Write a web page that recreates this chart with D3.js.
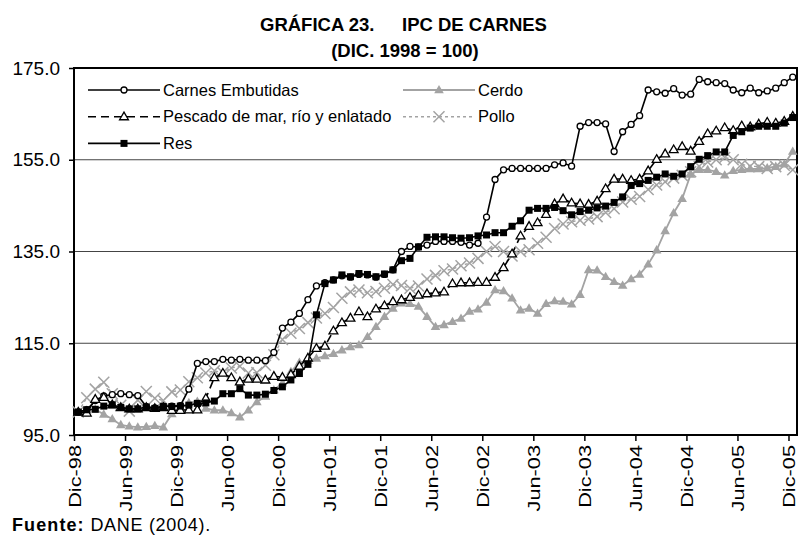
<!DOCTYPE html>
<html>
<head>
<meta charset="utf-8">
<script src="https://cdn.jsdelivr.net/npm/d3@7"></script>
<style>
  body { margin: 0; background: #fff; }
  text { font-family: Arial, "Liberation Sans", sans-serif; }
</style>
</head>
<body>
<script>
//data: monthly index, Dic-98 .. Dic-05 (85 months)
const tickLabels = ["Dic-98","Jun-99","Dic-99","Jun-00","Dic-00","Jun-01","Dic-01","Jun-02",
  "Dic-02","Jun-03","Dic-03","Jun-04","Dic-04","Jun-05","Dic-05"];
const yTicks = [95, 115, 135, 155, 175];

const carnesEmbutidas = [100.0,100.5,102.5,103.5,103.8,104.0,103.8,103.6,101.2,100.9,101.3,101.3,101.4,105.0,
  110.6,111.0,111.0,111.5,111.3,111.5,111.3,111.3,111.2,113.0,118.3,119.6,121.5,124.5,127.5,128.2,
  128.8,129.7,129.4,130.0,129.9,129.4,130.0,131.0,135.0,136.1,136.0,136.4,137.2,137.2,137.2,137.0,
  136.4,136.8,142.5,150.7,152.8,153.1,153.1,153.1,153.1,153.1,153.9,154.3,153.6,162.3,163.1,163.1,
  162.8,156.8,161.1,162.7,164.6,170.2,169.8,169.5,170.5,169.1,169.3,172.5,172.0,171.8,171.6,170.2,
  169.6,170.6,169.6,170.0,170.6,171.8,173.0];
const pescado = [100.0,99.8,102.8,103.2,101.6,101.0,100.7,100.7,101.0,100.8,101.0,100.4,100.4,100.5,
  100.5,103.0,107.5,108.5,107.5,106.6,107.2,107.2,107.0,107.8,107.6,108.2,110.0,111.8,113.9,114.4,
  117.7,119.5,120.5,121.9,120.8,122.5,123.2,124.1,124.5,125.0,125.5,125.8,126.0,126.2,128.0,128.2,
  128.2,128.3,128.3,129.4,131.5,134.5,138.4,140.5,141.3,143.1,145.4,146.5,145.6,145.4,145.3,146.0,
  148.7,150.8,150.8,150.5,150.8,152.6,155.1,156.3,157.2,157.9,156.9,159.0,160.7,161.3,162.0,161.4,
  162.4,162.2,162.8,163.2,163.0,163.4,164.5];
const res = [100.0,100.5,100.6,101.3,101.6,101.0,100.7,100.7,101.1,100.8,101.2,101.2,101.3,101.5,
  101.9,102.0,102.4,104.0,104.0,105.1,103.7,103.7,103.9,104.7,105.5,107.0,108.4,110.4,121.2,128.0,
  128.8,129.9,129.5,130.2,130.0,129.5,130.1,131.0,133.0,133.5,136.0,138.1,138.2,138.2,138.0,137.9,
  138.0,138.4,138.6,139.1,139.1,140.5,141.7,144.0,144.4,144.4,144.6,143.9,143.0,143.7,144.0,144.5,
  144.9,145.7,146.9,149.4,149.8,150.5,151.2,151.9,151.4,151.9,153.5,155.1,155.9,156.7,156.7,160.3,
  161.1,161.9,162.3,162.3,162.3,163.0,164.2];
const cerdo = [100.0,100.4,100.6,99.5,98.5,97.2,96.9,96.7,96.8,97.0,96.7,99.6,101.0,102.0,
  102.3,100.8,100.4,100.4,99.8,98.9,100.4,102.2,103.4,104.8,106.3,108.8,110.8,111.2,111.7,112.2,
  112.7,113.5,114.2,114.6,116.4,118.6,120.8,122.6,123.7,123.6,123.0,120.8,118.6,119.0,119.7,120.4,
  121.9,122.4,123.9,126.6,126.4,124.8,122.2,122.6,121.5,123.6,124.2,124.1,123.5,125.6,131.0,130.9,
  129.5,128.4,127.6,129.0,130.0,132.2,135.3,139.5,143.4,146.5,151.8,152.8,152.8,152.4,151.6,152.6,
  152.8,153.0,153.0,153.2,153.5,154.0,156.8];
const pollo = [100.0,103.1,105.0,106.5,104.0,101.5,100.2,102.6,104.5,103.0,102.5,104.4,104.8,106.6,
  107.5,108.5,109.0,108.6,109.6,110.0,108.5,108.6,110.2,112.5,115.8,117.2,118.2,119.5,120.5,121.5,
  122.8,124.8,126.2,126.6,126.0,126.3,127.0,127.8,127.6,127.0,127.5,129.0,129.8,130.8,131.2,131.9,
  132.5,133.5,135.0,136.1,135.0,134.0,135.0,135.4,136.8,138.1,140.0,141.0,141.5,141.8,142.1,142.6,
  143.5,144.3,145.8,146.4,147.0,148.5,149.5,150.2,151.0,151.6,152.4,153.6,154.5,155.0,155.5,155.0,
  154.0,153.6,153.5,153.1,153.5,153.8,152.8];

const nMonths = carnesEmbutidas.length;

//visual setup
const width = 798;
const height = 535;
const plot = {left: 74, right: 797, top: 68, bottom: 435};
const gray = "#a3a3a3";
const fontStack = "Arial, 'Liberation Sans', sans-serif";
const labelStretch = 1.28; //x labels are drawn a bit elongated

let svg = d3.select("body").append("svg")
  .attr("width", width)
  .attr("height", height);

//category axis: each month sits in the middle of its slot, ticks on slot edges
let x = d3.scaleLinear().domain([0, nMonths]).range([plot.left, plot.right]);
let y = d3.scaleLinear().domain([95, 175]).range([plot.bottom, plot.top]);

//series definitions
const series = [
  {name: "Carnes Embutidas", values: carnesEmbutidas, color: "#000", width: 1.6, dash: null, marker: "circle"},
  {name: "Cerdo", values: cerdo, color: gray, width: 1.8, dash: null, marker: "grayTriangle"},
  {name: "Pescado de mar, río y enlatado", values: pescado, color: "#000", width: 1.6, dash: "8,5", marker: "triangle"},
  {name: "Pollo", values: pollo, color: gray, width: 1.4, dash: "3,3", marker: "cross"},
  {name: "Res", values: res, color: "#000", width: 1.6, dash: null, marker: "square"}
];

//gridlines
svg.append("g").selectAll("line")
  .data(yTicks.filter(t => t > 95 && t < 175))
  .enter().append("line")
    .attr("x1", plot.left).attr("x2", plot.right)
    .attr("y1", d => y(d)).attr("y2", d => y(d))
    .attr("stroke", "#444")
    .attr("stroke-width", 1.2);

//y axis
let yAxis = d3.axisLeft(y).tickValues(yTicks).tickFormat(d3.format(".1f")).tickSize(5).tickPadding(9);
let gy = svg.append("g").attr("transform", "translate(" + plot.left + ",0)").call(yAxis);
gy.select(".domain").remove();
gy.selectAll(".tick line").attr("stroke", "#000").attr("stroke-width", 1.5);
gy.selectAll("text").attr("font-size", 19).attr("fill", "#000").style("font-family", fontStack);

//x axis ticks every 6 months
let tickIdx = tickLabels.map((d, i) => i * 6);
let xAxis = d3.axisBottom(x).tickValues(tickIdx).tickFormat((d, i) => tickLabels[i]).tickSize(6).tickPadding(4);
let gx = svg.append("g").attr("transform", "translate(0," + plot.bottom + ")").call(xAxis);
gx.select(".domain").remove();
gx.selectAll(".tick line").attr("stroke", "#000").attr("stroke-width", 1.5);
gx.selectAll("text")
  .attr("font-size", 17).attr("fill", "#000")
  .style("font-family", fontStack)
  .attr("transform", "rotate(-90) scale(" + labelStretch + ",1)")
  .attr("text-anchor", "end")
  .attr("x", -10 / labelStretch).attr("y", 0).attr("dy", "0.36em");

//plot frame
svg.append("rect")
  .attr("x", plot.left).attr("y", plot.top)
  .attr("width", plot.right - plot.left).attr("height", plot.bottom - plot.top)
  .attr("fill", "none").attr("stroke", "#000").attr("stroke-width", 2);

//markers
function drawMarker(g, type, cx, cy) {
  if (type === "circle") {
    g.append("circle").attr("cx", cx).attr("cy", cy).attr("r", 3)
      .attr("fill", "#fff").attr("stroke", "#000").attr("stroke-width", 1.3);
  } else if (type === "square") {
    g.append("rect").attr("x", cx - 3.5).attr("y", cy - 3.5).attr("width", 7).attr("height", 7)
      .attr("fill", "#000");
  } else if (type === "triangle") {
    g.append("path").attr("d", d3.symbol(d3.symbolTriangle, 34)())
      .attr("transform", "translate(" + cx + "," + (cy + 0.5) + ")")
      .attr("fill", "#fff").attr("stroke", "#000").attr("stroke-width", 1.3);
  } else if (type === "grayTriangle") {
    g.append("path").attr("d", d3.symbol(d3.symbolTriangle, 40)())
      .attr("transform", "translate(" + cx + "," + (cy + 0.5) + ")")
      .attr("fill", gray);
  } else if (type === "cross") {
    const s = 5.5;
    g.append("path").attr("d", "M" + (cx - s) + "," + (cy - s) + "L" + (cx + s) + "," + (cy + s) +
      "M" + (cx - s) + "," + (cy + s) + "L" + (cx + s) + "," + (cy - s))
      .attr("stroke", gray).attr("stroke-width", 1.5).attr("fill", "none");
  }
}

//series lines and markers (draw order: grays first, blacks on top)
let line = d3.line().x((d, i) => x(i + 0.5)).y(d => y(d));
let drawOrder = [3, 1, 0, 2, 4];
drawOrder.forEach(function (k) {
  let s = series[k];
  let g = svg.append("g");
  g.append("path")
    .attr("d", line(s.values))
    .attr("fill", "none")
    .attr("stroke", s.color)
    .attr("stroke-width", s.width)
    .attr("stroke-dasharray", s.dash);
  s.values.forEach((v, i) => drawMarker(g, s.marker, x(i + 0.5), y(v)));
});

//legend, two columns
const legendPos = [
  {col: 0, row: 0}, {col: 1, row: 0},
  {col: 0, row: 1}, {col: 1, row: 1},
  {col: 0, row: 2}
];
let legend = svg.append("g");
series.forEach(function (s, k) {
  let lx = legendPos[k].col === 0 ? 88 : 403;
  let ly = 90 + legendPos[k].row * 26.7;
  let g = legend.append("g");
  g.append("line")
    .attr("x1", lx).attr("x2", lx + 72).attr("y1", ly).attr("y2", ly)
    .attr("stroke", s.color).attr("stroke-width", s.width)
    .attr("stroke-dasharray", s.dash);
  drawMarker(g, s.marker, lx + 36, ly);
  g.append("text")
    .attr("x", lx + 75).attr("y", ly)
    .attr("dy", "0.35em")
    .attr("font-size", 16.5)
    .attr("fill", "#000")
    .text(s.name);
});

//title
svg.append("text").attr("x", 260).attr("y", 31)
  .attr("font-size", 18.5).attr("font-weight", "bold").text("GRÁFICA 23.");
svg.append("text").attr("x", 402).attr("y", 31)
  .attr("font-size", 18.5).attr("font-weight", "bold").text("IPC DE CARNES");
svg.append("text").attr("x", 405).attr("y", 57).attr("text-anchor", "middle")
  .attr("font-size", 18.5).attr("font-weight", "bold").text("(DIC. 1998 = 100)");

//source note
let src = svg.append("text").attr("x", 12).attr("y", 531).attr("font-size", 18);
src.append("tspan").attr("font-weight", "bold").attr("letter-spacing", 1.1).text("Fuente:");
src.append("tspan").attr("letter-spacing", 0.7).text(" DANE (2004).");
</script>
</body>
</html>
